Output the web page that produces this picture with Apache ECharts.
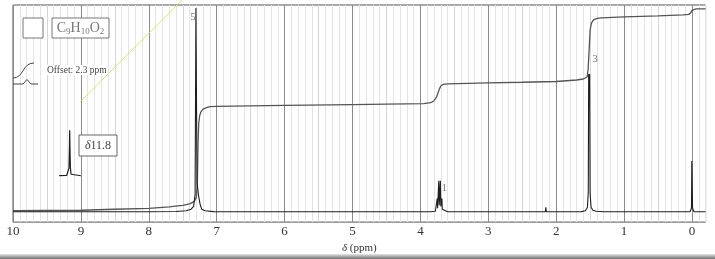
<!DOCTYPE html>
<html>
<head>
<meta charset="utf-8">
<script src="https://cdn.jsdelivr.net/npm/echarts@6/dist/echarts.min.js"></script>
<style>
html,body{margin:0;padding:0;background:#fff;}
#c{width:715px;height:259px;}
</style>
</head>
<body>
<div id="c"></div>
<script>
// ---- data (ppm, signal height in plot units) ----
const tickLabels = [10, 9, 8, 7, 6, 5, 4, 3, 2, 1, 0];
const spectrum = [
  [10, 10.5], [8.0, 10.5], [7.6, 10.8], [7.45, 11.5], [7.38, 13], [7.34, 16],
  [7.318, 28], [7.306, 217], [7.298, 217], [7.29, 40], [7.283, 36], [7.276, 34],
  [7.268, 27], [7.26, 25], [7.25, 20], [7.24, 17], [7.22, 13], [7.17, 11.5],
  [7.05, 10.6], [3.85, 10.5], [3.78, 11], [3.765, 12], [3.757, 13], [3.752, 24],
  [3.747, 14], [3.735, 16], [3.729, 42], [3.723, 17], [3.712, 17], [3.706, 42],
  [3.700, 16], [3.688, 14], [3.683, 24], [3.678, 13], [3.67, 12], [3.655, 11],
  [3.6, 10.5], [2.16, 10.5], [2.153, 15], [2.146, 10.5], [1.63, 10.6], [1.57, 11.5],
  [1.54, 15], [1.528, 30], [1.522, 150], [1.515, 140], [1.508, 150], [1.501, 30],
  [1.487, 15], [1.46, 12], [1.41, 11], [1.3, 10.5], [0.03, 10.5], [0.008, 14],
  [0.003, 62], [-0.003, 62], [-0.008, 14], [-0.03, 10.5], [-0.2, 10.5]
];
const integral = [
  [10, 11.5], [9.0, 12], [8.5, 13], [8.0, 14], [7.7, 15.5], [7.5, 17], [7.4, 18.5],
  [7.33, 21], [7.30, 25], [7.285, 40], [7.275, 80], [7.265, 100], [7.25, 108],
  [7.23, 112], [7.2, 114.5], [7.15, 116], [7.1, 117], [7.0, 117.3], [6.0, 118.3],
  [5.0, 119], [4.5, 119.5], [3.95, 120], [3.85, 121], [3.80, 123], [3.76, 127],
  [3.74, 131], [3.72, 135], [3.70, 138], [3.67, 139.5], [3.6, 140], [3.0, 141],
  [2.5, 141.7], [2.0, 142.5], [1.7, 144], [1.6, 145], [1.545, 147], [1.53, 155],
  [1.515, 175], [1.50, 195], [1.48, 202], [1.45, 205], [1.40, 206.5], [1.33, 207],
  [1.0, 208], [0.5, 209], [0.13, 210], [0.05, 210.5], [0.02, 212], [0.0, 214.5],
  [-0.02, 215.7], [-0.06, 216], [-0.2, 216]
];
const insetPeak = [
  [9.32, 47], [9.21, 47.2], [9.185, 48.5], [9.175, 55], [9.168, 78], [9.165, 93],
  [9.162, 78], [9.155, 55], [9.145, 48.5], [9.12, 47.2], [9.0, 47]
];
const highlightStroke = [[9.01, 122], [7.51, 225]];
const peakLabels = [
  { text: '5', ppm: 7.35, y: 208 },
  { text: '1', ppm: 3.65, y: 34 },
  { text: '3', ppm: 1.43, y: 165 }
];

const SERIF = '"Liberation Serif", "DejaVu Serif", serif';
const chart = echarts.init(document.getElementById('c'), null, { renderer: 'canvas' });

const minorColors = ['#e4e4e4', '#e4e4e4', '#8a8a8a', '#e4e4e4', '#e4e4e4', '#e4e4e4', '#e4e4e4', '#d6d6d6', '#e4e4e4', '#e4e4e4'];

const option = {
  animation: false,
  backgroundColor: '#ffffff',
  grid: {
    left: 13, right: 9.4, top: 5, bottom: 34,
    show: true, borderColor: '#555', borderWidth: 1, backgroundColor: 'transparent'
  },
  xAxis: {
    type: 'value', inverse: true, min: -0.2, max: 10, interval: 0.1,
    axisLine: { show: false }, axisTick: { show: false },
    splitLine: { show: true, lineStyle: { color: minorColors, width: 1 } },
    axisLabel: {
      margin: 3, color: '#333', fontFamily: SERIF, fontSize: 13,
      showMinLabel: true, showMaxLabel: true,
      formatter: function (v) {
        const r = Math.round(v);
        return (Math.abs(v - r) < 1e-6 && tickLabels.indexOf(r) >= 0) ? String(r) : '';
      }
    },
    name: '{i|δ} (ppm)', nameLocation: 'middle', nameGap: 16,
    nameTextStyle: {
      color: '#333', fontFamily: SERIF, fontSize: 11,
      rich: { i: { fontStyle: 'italic', fontFamily: SERIF, fontSize: 11, color: '#333' } }
    }
  },
  yAxis: {
    type: 'value', min: 0, max: 220, show: false, splitLine: { show: false }
  },
  series: [
    {
      type: 'line', data: highlightStroke, showSymbol: false, clip: false, silent: true,
      lineStyle: { color: 'rgba(222,212,120,0.85)', width: 1 }, z: 1
    },
    {
      type: 'line', data: integral, showSymbol: false, silent: true,
      lineStyle: { color: '#555', width: 1.3 }, z: 3
    },
    {
      type: 'line', data: spectrum, showSymbol: false, silent: true,
      lineStyle: { color: '#1e1e1e', width: 1.1 }, z: 4
    },
    {
      type: 'line', data: insetPeak, showSymbol: false, silent: true,
      lineStyle: { color: '#1e1e1e', width: 1.2 }, z: 4
    },
    {
      type: 'scatter', symbolSize: 0, silent: true, z: 5,
      data: peakLabels.map(p => ({ value: [p.ppm, p.y], name: p.text })),
      label: {
        show: true, position: 'inside', formatter: p => p.name,
        color: '#555', fontFamily: SERIF, fontSize: 11
      }
    }
  ],
  graphic: [
    { type: 'rect', shape: { x: 23, y: 18, width: 20, height: 20 }, style: { fill: '#fff', stroke: '#777', lineWidth: 1 }, z: 10 },
    { type: 'rect', shape: { x: 52, y: 18, width: 57, height: 20 }, style: { fill: '#fff', stroke: '#777', lineWidth: 1 }, z: 10 },
    {
      type: 'text', x: 80.5, y: 28, z: 11,
      style: {
        text: 'C{s|9}H{s|10}O{s|2}', fill: '#777', font: '14px ' + SERIF,
        align: 'center', verticalAlign: 'middle',
        rich: { s: { fontSize: 9, fill: '#777', fontFamily: SERIF, padding: [7, 0, 0, 0] } }
      }
    },
    { type: 'bezierCurve', shape: { x1: 13, y1: 78, x2: 34, y2: 63, cpx1: 24, cpy1: 78, cpx2: 22, cpy2: 63 }, style: { stroke: '#444', lineWidth: 1, fill: null }, z: 10 },
    { type: 'polyline', shape: { points: [[13, 84], [23, 84], [27, 79.5], [31, 84], [38, 84]] }, style: { stroke: '#444', lineWidth: 1, fill: null }, z: 10 },
    { type: 'text', x: 47, y: 70, z: 11, style: { text: 'Offset: 2.3 ppm', fill: '#444', font: '9.5px ' + SERIF, verticalAlign: 'middle', backgroundColor: '#fff' } },
    { type: 'rect', shape: { x: 79, y: 135, width: 38, height: 21 }, style: { fill: '#fff', stroke: '#666', lineWidth: 1 }, z: 10 },
    {
      type: 'text', x: 98, y: 146, z: 11,
      style: {
        text: '{i|δ}11.8', fill: '#444', font: '12px ' + SERIF, align: 'center', verticalAlign: 'middle',
        rich: { i: { fontStyle: 'italic', fontSize: 12, fill: '#444', fontFamily: SERIF } }
      }
    },
    {
      type: 'rect', shape: { x: 0, y: 254, width: 715, height: 5 }, z: 0,
      style: { fill: new echarts.graphic.LinearGradient(0, 0, 0, 1, [{ offset: 0, color: '#e6e6e6' }, { offset: 1, color: '#6e6e6e' }]) }
    }
  ]
};
chart.setOption(option);
</script>
</body>
</html>
